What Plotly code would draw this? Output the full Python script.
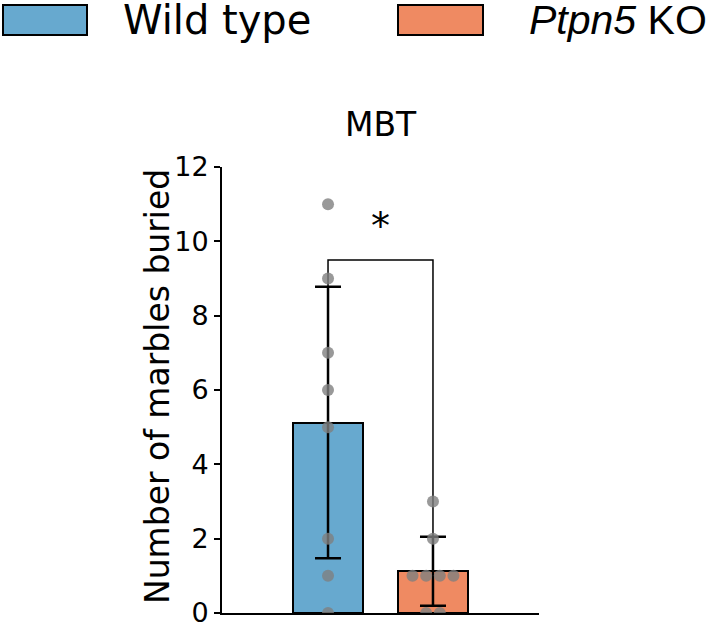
import numpy as np
import plotly.graph_objects as go

# ---- data ----
groups = ["Wild type", "Ptpn5 KO"]
wt_values = [11, 9, 7, 6, 5, 2, 1, 0]
ko_values = [3, 2, 1, 1, 1, 1, 0, 0]
bar_colors = ["#67a9cf", "#ef8a62"]
y_ticks = [0, 2, 4, 6, 8, 10, 12]
bracket_level = 9.5
sig_label = "*"
title_text = "MBT"
y_title = "Number of marbles buried"

all_vals = [wt_values, ko_values]
means = [float(np.mean(v)) for v in all_vals]
sds = [float(np.std(v)) for v in all_vals]

# ---- layout geometry (pixels) ----
W, H = 709, 626
L, R, T, B = 222, 170, 167, 13
PW, PH = W - L - R, H - T - B


def px_x(px):
    return (px - L) / PW


def px_y(py):  # py measured from top of figure
    return (H - B - py) / PH


fig = go.Figure()

# bars
fig.add_trace(go.Bar(
    x=[0, 1], y=means, width=0.66,
    marker=dict(color=bar_colors, line=dict(color="black", width=2)),
    error_y=dict(type="data", array=sds, visible=True, color="black",
                 thickness=2.5, width=13),
    showlegend=False, hoverinfo="skip",
))

# significance bracket
fig.add_trace(go.Scatter(
    x=[0, 0, 1, 1],
    y=[means[0] + sds[0], bracket_level, bracket_level, means[1] + sds[1]],
    mode="lines", line=dict(color="black", width=1.5),
    showlegend=False, hoverinfo="skip",
))

# swarm points
spacing = 0.13
for gi, vals in enumerate(all_vals):
    xs, ys = [], []
    for v in sorted(set(vals), reverse=True):
        n = vals.count(v)
        for k in range(n):
            xs.append(gi + (k - (n - 1) / 2) * spacing)
            ys.append(v)
    fig.add_trace(go.Scatter(
        x=xs, y=ys, mode="markers",
        marker=dict(color="#808080", size=12, opacity=0.8, line=dict(width=0)),
        showlegend=False, hoverinfo="skip", cliponaxis=True,
    ))

# significance star
fig.add_annotation(x=0.5, y=bracket_level, xref="x", yref="y",
                   text=sig_label, showarrow=False, yanchor="bottom",
                   yshift=10, font=dict(family="DejaVu Sans", size=38, color="black"))

# title
fig.add_annotation(x=0.5, y=px_y(125), xref="paper", yref="paper",
                   text=title_text, showarrow=False, xanchor="center",
                   yanchor="middle",
                   font=dict(family="DejaVu Sans", size=33, color="black"))

# y title
fig.add_annotation(x=px_x(157), y=px_y(387), xref="paper", yref="paper",
                   text=y_title, showarrow=False, textangle=-90,
                   xanchor="center", yanchor="middle",
                   font=dict(family="DejaVu Sans", size=33, color="black"))

# legend (drawn)
leg_boxes = [(3, 87), (398, 483)]
leg_texts = ["Wild type", "<i>Ptpn5</i> KO"]
leg_text_x = [121, 527]
leg_fonts = [("DejaVu Sans", 40), ("Liberation Sans", 41)]
for (x0, x1), c, t, tx, (ff, fs) in zip(leg_boxes, bar_colors, leg_texts,
                                        leg_text_x, leg_fonts):
    fig.add_shape(type="rect", xref="paper", yref="paper",
                  x0=px_x(x0), x1=px_x(x1), y0=px_y(35), y1=px_y(5),
                  fillcolor=c, line=dict(color="black", width=2))
    fig.add_annotation(x=px_x(tx), y=px_y(20), xref="paper", yref="paper",
                       text=t, showarrow=False, xanchor="left", yanchor="middle",
                       font=dict(family=ff, size=fs, color="black"))

fig.update_layout(
    width=W, height=H,
    margin=dict(l=L, r=R, t=T, b=B, pad=0, autoexpand=False),
    plot_bgcolor="white", paper_bgcolor="white",
    bargap=0,
    xaxis=dict(range=[-1.01, 2.01], showticklabels=False, ticks="",
               showline=True, linecolor="black", linewidth=2,
               showgrid=False, zeroline=False, fixedrange=True,
               automargin=False),
    yaxis=dict(range=[0, 12], tickvals=y_ticks, ticks="outside",
               ticklen=6, tickwidth=2, tickcolor="black",
               showline=True, linecolor="black", linewidth=2,
               showgrid=False, zeroline=False, ticklabeloverflow="allow",
               automargin=False,
               tickfont=dict(family="DejaVu Sans", size=27, color="black")),
    showlegend=False,
)

fig.write_html("out.html")
